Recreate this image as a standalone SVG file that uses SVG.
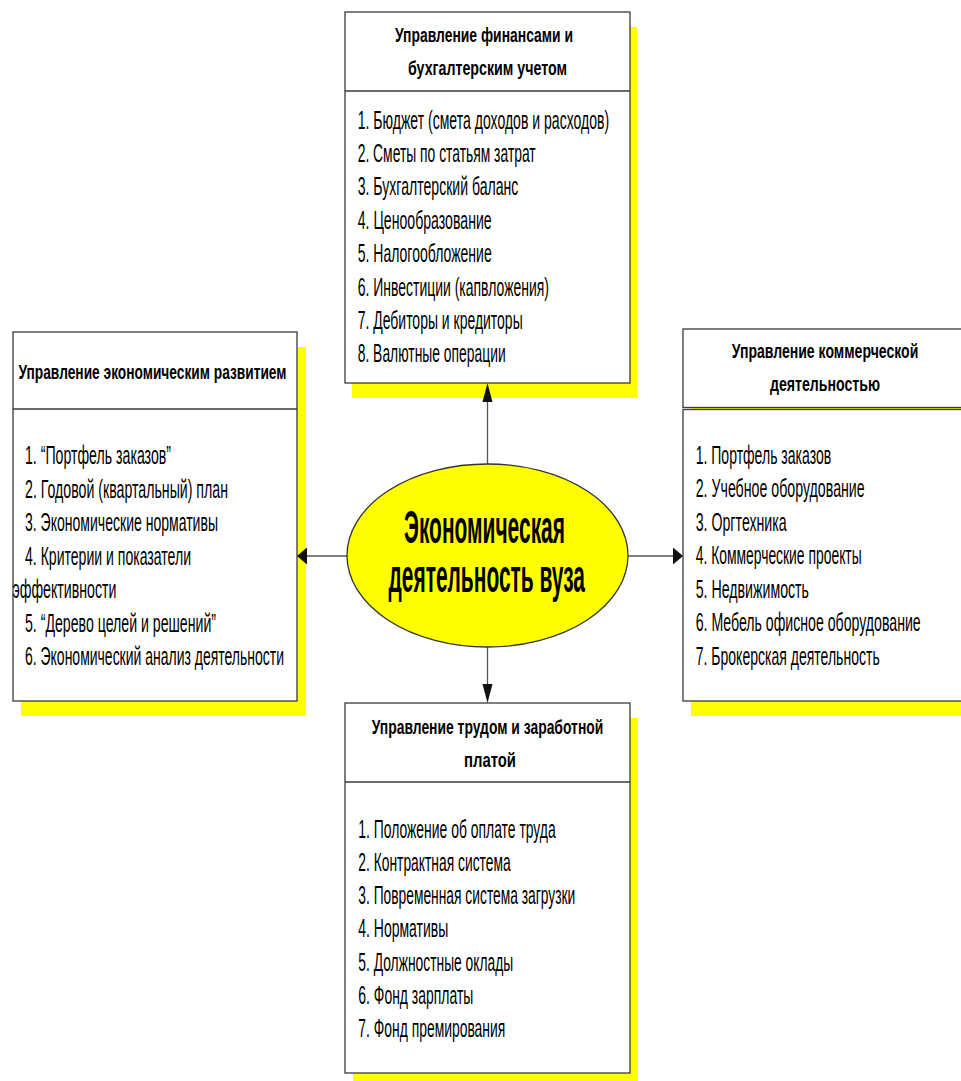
<svg xmlns="http://www.w3.org/2000/svg" width="961" height="1081" viewBox="0 0 961 1081">
  <style>
    .shadow { fill: #ffff00; }
    .box { fill: #ffffff; stroke: #3a3a3a; stroke-width: 1.3; }
    .title { font-family: "Liberation Sans", Arial, sans-serif; font-weight: bold; font-size: 21px; fill: #000; }
    .item { font-family: "Liberation Sans", Arial, sans-serif; font-size: 25px; fill: #000; }
    .core { font-family: "Liberation Sans", Arial, sans-serif; font-weight: bold; font-size: 46px; fill: #000; }
    .conn { stroke: #555; stroke-width: 1.3; fill: none; }
    .head { fill: #111; stroke: none; }
  </style>

  <rect width="961" height="1081" fill="#ffffff"/>

  <!-- finance -->
  <g id="finance">
    <rect class="shadow" x="352" y="27" width="285" height="371"/>
    <rect class="box" x="345" y="12" width="285" height="371"/>
    <line class="box" x1="345" y1="91" x2="630" y2="91"/>
    <text class="title" x="395" y="41.5" textLength="178" lengthAdjust="spacingAndGlyphs">Управление финансами и</text>
    <text class="title" x="408" y="75" textLength="159" lengthAdjust="spacingAndGlyphs">бухгалтерским учетом</text>
    <text class="item" x="357.7" y="128.5" textLength="251.5" lengthAdjust="spacingAndGlyphs">1. Бюджет (смета доходов и расходов)</text>
    <text class="item" x="357.7" y="161.9" textLength="178" lengthAdjust="spacingAndGlyphs">2. Сметы по статьям затрат</text>
    <text class="item" x="357.7" y="195.3" textLength="160.7" lengthAdjust="spacingAndGlyphs">3. Бухгалтерский баланс</text>
    <text class="item" x="357.7" y="228.7" textLength="134" lengthAdjust="spacingAndGlyphs">4. Ценообразование</text>
    <text class="item" x="357.7" y="262.1" textLength="134" lengthAdjust="spacingAndGlyphs">5. Налогообложение</text>
    <text class="item" x="357.7" y="295.5" textLength="191.3" lengthAdjust="spacingAndGlyphs">6. Инвестиции (капвложения)</text>
    <text class="item" x="357.7" y="328.9" textLength="165" lengthAdjust="spacingAndGlyphs">7. Дебиторы и кредиторы</text>
    <text class="item" x="357.7" y="362.3" textLength="148" lengthAdjust="spacingAndGlyphs">8. Валютные операции</text>
  </g>

  <!-- economic development -->
  <g id="development">
    <rect class="shadow" x="21" y="347" width="285" height="369"/>
    <rect class="box" x="13" y="332" width="284" height="369"/>
    <line class="box" x1="13" y1="409" x2="297" y2="409"/>
    <text class="title" x="18.5" y="378.5" textLength="268" lengthAdjust="spacingAndGlyphs">Управление экономическим развитием</text>
    <text class="item" x="25" y="464" textLength="146" lengthAdjust="spacingAndGlyphs">1. “Портфель заказов”</text>
    <text class="item" x="25" y="497.5" textLength="203" lengthAdjust="spacingAndGlyphs">2. Годовой (квартальный) план</text>
    <text class="item" x="25" y="531" textLength="193" lengthAdjust="spacingAndGlyphs">3. Экономические нормативы</text>
    <text class="item" x="25" y="564.5" textLength="166" lengthAdjust="spacingAndGlyphs">4. Критерии и показатели</text>
    <text class="item" x="12.5" y="598" textLength="104" lengthAdjust="spacingAndGlyphs">эффективности</text>
    <text class="item" x="25" y="631.5" textLength="191" lengthAdjust="spacingAndGlyphs">5. “Дерево целей и решений”</text>
    <text class="item" x="25" y="665" textLength="259" lengthAdjust="spacingAndGlyphs">6. Экономический анализ деятельности</text>
  </g>

  <!-- commerce -->
  <g id="commerce">
    <rect class="shadow" x="691" y="344" width="284" height="372"/>
    <rect class="box" x="683" y="329" width="284" height="78.5"/>
    <rect class="box" x="683" y="409.5" width="284" height="291.5"/>
    <text class="title" x="731.7" y="357.5" textLength="186.6" lengthAdjust="spacingAndGlyphs">Управление коммерческой</text>
    <text class="title" x="770" y="390.5" textLength="110" lengthAdjust="spacingAndGlyphs">деятельностью</text>
    <text class="item" x="695.7" y="463.5" textLength="135.5" lengthAdjust="spacingAndGlyphs">1. Портфель заказов</text>
    <text class="item" x="695.7" y="497" textLength="169" lengthAdjust="spacingAndGlyphs">2. Учебное оборудование</text>
    <text class="item" x="695.7" y="530.5" textLength="91" lengthAdjust="spacingAndGlyphs">3. Оргтехника</text>
    <text class="item" x="695.7" y="564" textLength="166" lengthAdjust="spacingAndGlyphs">4. Коммерческие проекты</text>
    <text class="item" x="695.7" y="597.5" textLength="113.3" lengthAdjust="spacingAndGlyphs">5. Недвижимость</text>
    <text class="item" x="695.7" y="631" textLength="225" lengthAdjust="spacingAndGlyphs">6. Мебель офисное оборудование</text>
    <text class="item" x="695.7" y="664.5" textLength="184" lengthAdjust="spacingAndGlyphs">7. Брокерская деятельность</text>
  </g>

  <!-- labour and pay -->
  <g id="labour">
    <rect class="shadow" x="353" y="718" width="285" height="370"/>
    <rect class="box" x="345" y="703" width="285" height="370"/>
    <line class="box" x1="345" y1="782" x2="630" y2="782"/>
    <text class="title" x="371.7" y="733.5" textLength="231.6" lengthAdjust="spacingAndGlyphs">Управление трудом и заработной</text>
    <text class="title" x="464" y="767" textLength="52" lengthAdjust="spacingAndGlyphs">платой</text>
    <text class="item" x="358.3" y="837.5" textLength="197.4" lengthAdjust="spacingAndGlyphs">1. Положение об оплате труда</text>
    <text class="item" x="358.3" y="870.8" textLength="152.4" lengthAdjust="spacingAndGlyphs">2. Контрактная система</text>
    <text class="item" x="358.3" y="904.1" textLength="217" lengthAdjust="spacingAndGlyphs">3. Повременная система загрузки</text>
    <text class="item" x="358.3" y="937.4" textLength="90" lengthAdjust="spacingAndGlyphs">4. Нормативы</text>
    <text class="item" x="358.3" y="970.7" textLength="155" lengthAdjust="spacingAndGlyphs">5. Должностные оклады</text>
    <text class="item" x="358.3" y="1004" textLength="115" lengthAdjust="spacingAndGlyphs">6. Фонд зарплаты</text>
    <text class="item" x="358.3" y="1037.3" textLength="147" lengthAdjust="spacingAndGlyphs">7. Фонд премирования</text>
  </g>

  <!-- connectors from the centre: line plus filled head, drawn over the box shadows -->
  <g id="connectors">
    <path class="conn" d="M487.5,464 V401"/>
    <polygon class="head" points="487.5,383 482.5,402 492.5,402"/>
    <path class="conn" d="M487.5,647 V685"/>
    <polygon class="head" points="487.5,703 482.5,684 492.5,684"/>
    <path class="conn" d="M347,556 H306"/>
    <polygon class="head" points="297,556 307,547.5 307,564.5"/>
    <path class="conn" d="M628,556 H674"/>
    <polygon class="head" points="683,556 673,547.5 673,564.5"/>
  </g>

  <!-- central node -->
  <g id="centre">
    <ellipse cx="487.5" cy="555.5" rx="140.5" ry="91.5" fill="#ffff00" stroke="#333" stroke-width="1.3"/>
    <text class="core" x="404" y="543" textLength="161" lengthAdjust="spacingAndGlyphs">Экономическая</text>
    <text class="core" x="388.5" y="592" textLength="196.5" lengthAdjust="spacingAndGlyphs">деятельность вуза</text>
  </g>
</svg>
